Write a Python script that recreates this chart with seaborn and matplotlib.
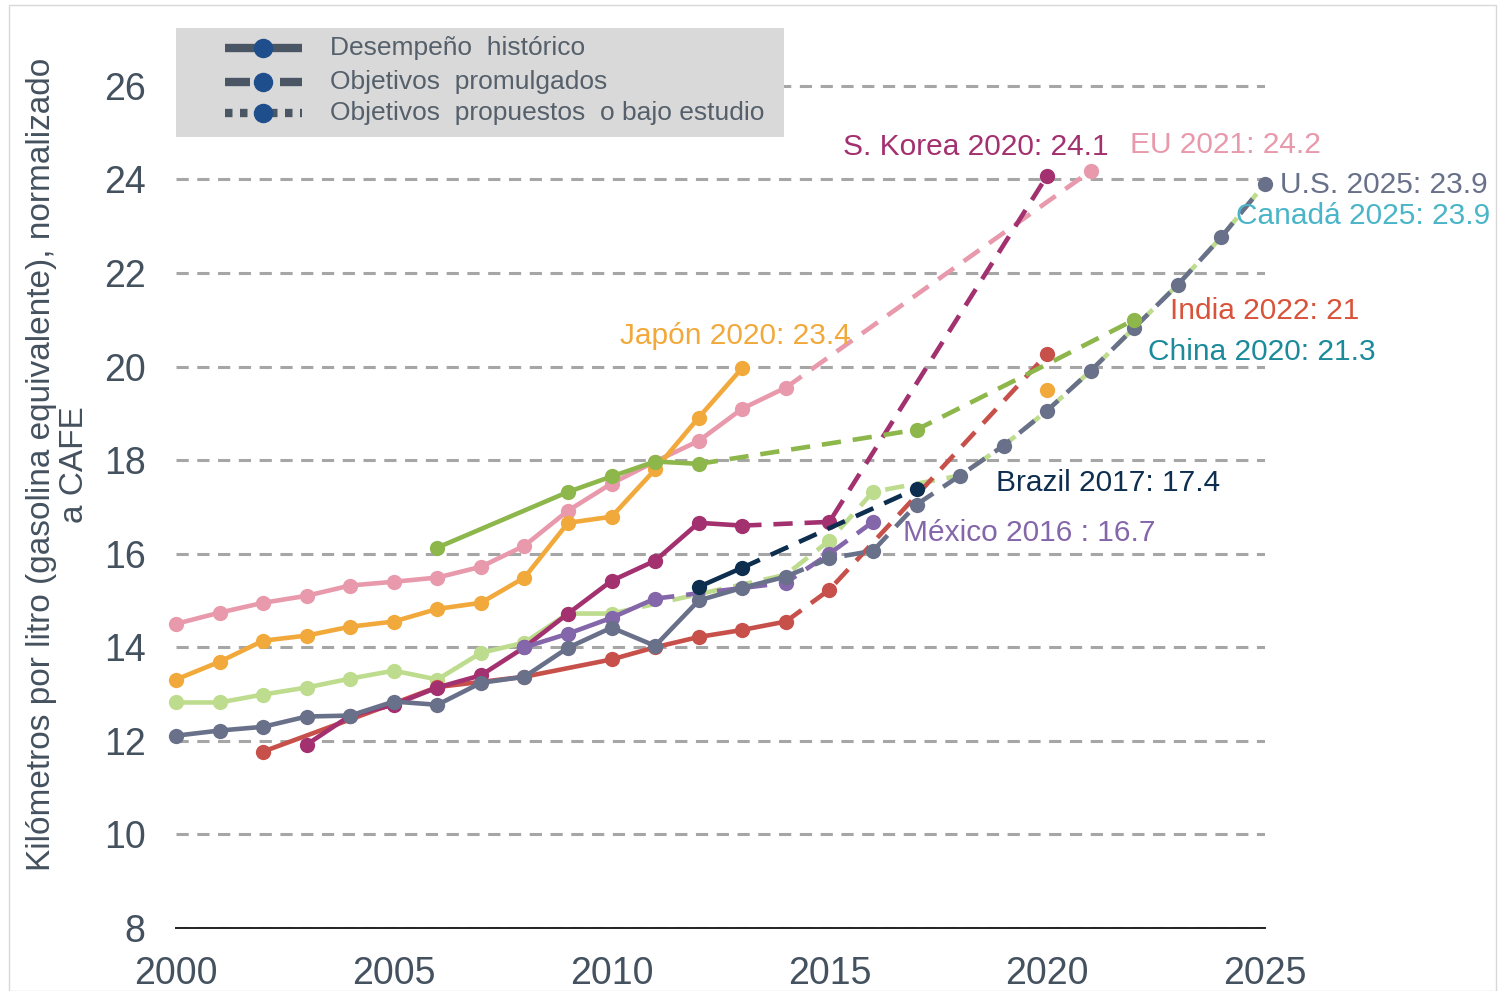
import matplotlib
matplotlib.use('Agg')
import matplotlib.pyplot as plt
import seaborn as sns
from matplotlib.lines import Line2D
from matplotlib.patches import Rectangle

# historical performance (solid) and targets (dashed), km/l normalised to CAFE
us_hist_years = list(range(2000, 2015))
us_hist = [12.11, 12.22, 12.30, 12.52, 12.54, 12.84, 12.77, 13.24, 13.37, 13.99, 14.42, 14.03, 15.00, 15.27, 15.51]
us_tgt_years = [2014, 2015, 2016, 2017, 2018, 2019, 2020, 2021, 2022, 2023, 2024, 2025]
us_tgt = [15.51, 15.90, 16.06, 17.05, 17.67, 18.31, 19.06, 19.91, 20.83, 21.75, 22.77, 23.91]

eu_hist_years = list(range(2000, 2015))
eu_hist = [14.50, 14.74, 14.95, 15.10, 15.32, 15.40, 15.49, 15.72, 16.17, 16.92, 17.50, 17.97, 18.41, 19.10, 19.55]
eu_tgt_years = [2014, 2021]
eu_tgt = [19.55, 24.18]

jp_hist_years = list(range(2000, 2014))
jp_hist = [13.31, 13.69, 14.14, 14.25, 14.44, 14.55, 14.82, 14.95, 15.49, 16.66, 16.79, 17.80, 18.91, 19.97]
jp_tgt_years = [2020]
jp_tgt = [19.50]

cn_hist_years = [2006, 2009, 2010, 2011, 2012]
cn_hist = [16.13, 17.32, 17.65, 17.97, 17.92]
cn_tgt_years = [2012, 2016, 2017, 2020, 2022]
cn_tgt = [17.92, 18.50, 18.65, 20.05, 21.00]

ca_hist_years = list(range(2000, 2011))
ca_hist = [12.82, 12.82, 12.99, 13.14, 13.33, 13.50, 13.31, 13.88, 14.10, 14.72, 14.72]
ca_tgt_years = [2010, 2014, 2015, 2016, 2018, 2019, 2020, 2021, 2022, 2023, 2024, 2025]
ca_tgt = [14.72, 15.55, 16.28, 17.32, 17.67, 18.31, 19.06, 19.91, 20.83, 21.75, 22.77, 23.91]

kr_hist_years = list(range(2003, 2014))
kr_hist = [11.92, 12.54, 12.77, 13.14, 13.40, 14.00, 14.72, 15.42, 15.85, 16.66, 16.60]
kr_tgt_years = [2013, 2015, 2020]
kr_tgt = [16.60, 16.68, 24.08]

in_hist_years = [2002, 2005, 2006, 2008, 2010, 2011, 2012, 2013, 2014]
in_hist = [11.77, 12.80, 13.15, 13.37, 13.74, 14.00, 14.22, 14.37, 14.55]
in_tgt_years = [2014, 2015, 2020]
in_tgt = [14.55, 15.23, 20.27]

mx_hist_years = [2008, 2009, 2010, 2011]
mx_hist = [14.00, 14.29, 14.63, 15.04]
mx_tgt_years = [2011, 2014, 2015, 2016]
mx_tgt = [15.04, 15.38, 16.00, 16.68]

br_hist_years = [2012, 2013]
br_hist = [15.29, 15.70]
br_tgt_years = [2013, 2017]
br_tgt = [15.70, 17.39]

label_texts = ['Japón 2020: 23.4', 'S. Korea 2020: 24.1', 'EU 2021: 24.2', 'U.S. 2025: 23.9',
               'Canadá 2025: 23.9', 'India 2022: 21', 'China 2020: 21.3', 'Brazil 2017: 17.4',
               'México 2016 : 16.7']
legend_labels = ['Desempeño  histórico', 'Objetivos  promulgados', 'Objetivos  propuestos  o bajo estudio']

# series: (hist x, hist y, target x, target y, marker idx on target, colour)
series = [
    (eu_hist_years, eu_hist, eu_tgt_years, eu_tgt, [1], '#E899AB'),
    (jp_hist_years, jp_hist, jp_tgt_years, jp_tgt, [0], '#F2A93B'),
    (ca_hist_years, ca_hist, ca_tgt_years, ca_tgt, [2, 3], '#BEDC8E'),
    (in_hist_years, in_hist, in_tgt_years, in_tgt, [1, 2], '#C8504A'),
    (kr_hist_years, kr_hist, kr_tgt_years, kr_tgt, [1, 2], '#A3306F'),
    (mx_hist_years, mx_hist, mx_tgt_years, mx_tgt, [1, 2, 3], '#8466AA'),
    (us_hist_years, us_hist, us_tgt_years, us_tgt, list(range(1, 12)), '#69718A'),
    (cn_hist_years, cn_hist, cn_tgt_years, cn_tgt, [2, 4], '#8DB64B'),
    (br_hist_years, br_hist, br_tgt_years, br_tgt, [1], '#0E2E4F'),
]

sns.set_style('white')
plt.rcParams['font.family'] = ['Liberation Sans', 'DejaVu Sans']
plt.rcParams['lines.dashed_pattern'] = [4.2, 2.6]

fig = plt.figure(figsize=(15.01, 9.91), dpi=100)
ax = fig.add_axes([176 / 1501, 1 - 928 / 991, (1265 - 176) / 1501, (928 - 39) / 991])

for hx, hy, tx, ty, mk, col in series:
    if len(tx) > 1:
        sns.lineplot(x=tx, y=ty, ax=ax, color=col, lw=3.3, ls='--', marker='o', ms=11,
                     markevery=mk, mec=col, mew=0, clip_on=False)
    else:
        sns.scatterplot(x=tx, y=ty, ax=ax, color=col, s=121, linewidth=0, clip_on=False)
    sns.lineplot(x=hx, y=hy, ax=ax, color=col, lw=3.3, marker='o', ms=11,
                 mec=col, mew=0, clip_on=False)

ax.set_xlim(2000, 2025)
ax.set_ylim(8, 27)
ax.set_xticks(range(2000, 2026, 5))
ax.set_yticks(range(8, 27, 2))
ax.yaxis.grid(True, ls='--', color='#A6A6A6', lw=2.2, dashes=(4, 2.8))
ax.set_axisbelow(True)
for s in ['top', 'right', 'left']:
    ax.spines[s].set_visible(False)
ax.spines['bottom'].set_color('#222222')
ax.spines['bottom'].set_linewidth(1.4)
ax.tick_params(axis='x', direction='out', length=12, width=1, color='#222222',
               pad=8, labelsize=27, labelcolor='#44515E')
ax.tick_params(axis='y', length=0, pad=22, labelsize=27, labelcolor='#44515E')
ax.set_ylabel('Kilómetros por litro (gasolina equivalente), normalizado\na CAFE',
              fontsize=24, color='#44515E', linespacing=1.1)
ax.yaxis.set_label_coords(-0.079, 0.521)

# annotations
label_x = [2010.19, 2015.31, 2021.90, 2025.35, 2024.33, 2022.82, 2022.31, 2018.82, 2016.69]
label_y = [20.66, 24.70, 24.74, 23.88, 23.22, 21.19, 20.32, 17.52, 16.45]
label_c = ['#F2A93B', '#A3306F', '#E899AB', '#69718A', '#4AB5C8', '#D9533B', '#1B8A9B', '#0E2E4F', '#8466AA']
for t, x, y, c in zip(label_texts, label_x, label_y, label_c):
    ax.text(x, y, t, color=c, fontsize=21.5, ha='left', va='center', clip_on=False)

# legend, drawn by hand in figure pixels
W, H = 1501, 991
fig.patches.append(Rectangle((176 / W, 1 - 137 / H), (784 - 176) / W, (137 - 28) / H,
                             transform=fig.transFigure, facecolor='#D9D9D9', edgecolor='none'))
leg_rows = [48, 82, 113]
leg_styles = ['-', (0, (3.0, 1.4, 1.2, 1.0)), (0, (0.9, 0.9))]
for row, ls, lab in zip(leg_rows, leg_styles, legend_labels):
    yy = 1 - row / H
    fig.add_artist(Line2D([225 / W, 302 / W], [yy, yy], transform=fig.transFigure,
                          color='#4A5663', lw=6, ls=ls, solid_capstyle='butt', dash_capstyle='butt'))
    fig.add_artist(Line2D([263 / W], [yy], transform=fig.transFigure, marker='o', ms=13,
                          mfc='#1F4E8C', mec='#1F4E8C', ls='none'))
    fig.text(330 / W, yy, lab, fontsize=19, color='#55606B', ha='left', va='center')

fig.patches.append(Rectangle((9 / W, 0), 1 - 14 / W, 1 - 5 / H, transform=fig.transFigure,
                             fill=False, edgecolor='#D8D8D8', lw=1))

plt.savefig('out.png', dpi=100)
